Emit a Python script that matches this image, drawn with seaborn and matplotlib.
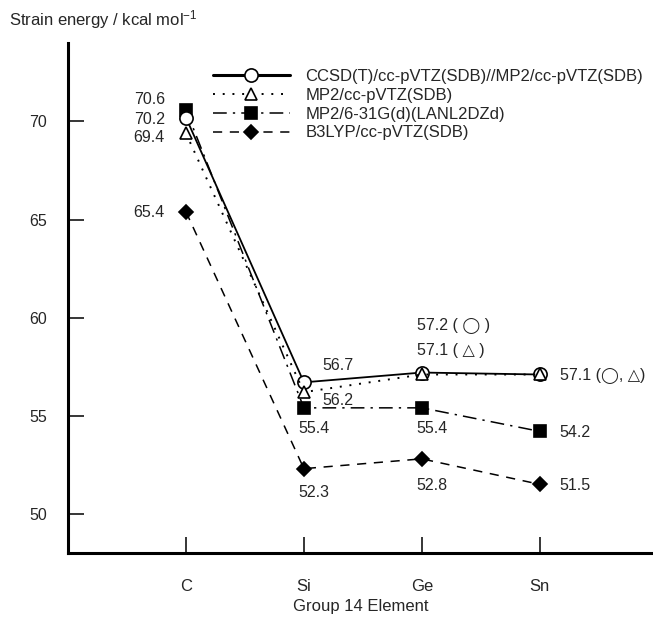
import numpy as np
import matplotlib
matplotlib.use("Agg")
import matplotlib.pyplot as plt
import seaborn as sns

# Strain energies (kcal/mol) of the group 14 three-membered rings
elements = ["C", "Si", "Ge", "Sn"]
ccsd_t = [70.2, 56.7, 57.2, 57.1]
mp2_vtz = [69.4, 56.2, 57.1, 57.1]
mp2_631g = [70.6, 55.4, 55.4, 54.2]
b3lyp = [65.4, 52.3, 52.8, 51.5]
methods = [
    "CCSD(T)/cc-pVTZ(SDB)//MP2/cc-pVTZ(SDB)",
    "MP2/cc-pVTZ(SDB)",
    "MP2/6-31G(d)(LANL2DZd)",
    "B3LYP/cc-pVTZ(SDB)",
]
yticks = [50, 55, 60, 65, 70]

sns.set_theme(style="ticks")
plt.rcParams["font.family"] = ["Liberation Sans", "DejaVu Sans"]
plt.rcParams["mathtext.default"] = "regular"

W, H = 653, 619
fig = plt.figure(figsize=(W / 100, H / 100), dpi=100)
fig.patch.set_facecolor("white")
ax = fig.add_axes([68 / W, 66 / H, (W - 68) / W, 510 / H])
ax.set_facecolor("white")

pos = np.arange(len(elements))
series = [ccsd_t, mp2_vtz, mp2_631g, b3lyp]
styles = [
    dict(marker="o", markersize=9.5, markerfacecolor="white", linestyle="-", linewidth=1.3, zorder=4),
    dict(marker="^", markersize=8, markerfacecolor="white", linestyle=(0, (1, 4)), linewidth=1.4, zorder=5),
    dict(marker="s", markersize=8, markerfacecolor="black", linestyle=(0, (9, 4, 1.5, 4)), linewidth=1.1, zorder=3),
    dict(marker="D", markersize=7.5, markerfacecolor="black", linestyle=(0, (6, 5)), linewidth=1.1, zorder=3),
]
for vals, name, st in zip(series, methods, styles):
    sns.lineplot(x=pos, y=vals, ax=ax, color="black", markeredgecolor="black",
                 markeredgewidth=1.2, label=name, **st)

ax.set_xlim(-1.0, 3.96)
ax.set_ylim(48, 74)
ax.set_xticks(pos, elements)
ax.set_yticks(yticks)
ax.tick_params(direction="in", length=11.5, width=1.1, labelsize=11.5, color="black")
ax.tick_params(axis="x", pad=19, labelsize=12)
ax.tick_params(axis="y", pad=15)
sns.despine(ax=ax)
for side in ("left", "bottom"):
    ax.spines[side].set_linewidth(2.2)
    ax.spines[side].set_color("black")
ax.grid(False)

ax.set_xlabel("Group 14 Element", fontsize=12, labelpad=3)
ax.set_ylabel("")
fig.text(9 / W, 1 - 20 / H, "Strain energy / kcal mol$^{-1}$", fontsize=12, va="center", ha="left")

leg = ax.legend(loc="upper left", bbox_to_anchor=(213 / W, 1 - 69 / H), bbox_transform=fig.transFigure,
                frameon=False, handlelength=4.6, handletextpad=0.95, labelspacing=0.23,
                borderpad=0, borderaxespad=0, fontsize=12)
leg.get_lines()[0].set_linewidth(2.2)


def note(text, x, y, dx, dy, ha="left"):
    # offsets given in pixels, converted to points
    ax.annotate(text, xy=(x, y), xytext=(dx * 0.72, dy * 0.72), textcoords="offset points",
                ha=ha, va="center", fontsize=11.5)


# C column: labels to the left of the markers
note(f"{mp2_631g[0]}", 0, mp2_631g[0], -21, 10, ha="right")
note(f"{ccsd_t[0]}", 0, ccsd_t[0], -21, -2, ha="right")
note(f"{mp2_vtz[0]}", 0, mp2_vtz[0], -21, -4, ha="right")
note(f"{b3lyp[0]}", 0, b3lyp[0], -21, -1, ha="right")

# Si column
note(f"{ccsd_t[1]}", 1, ccsd_t[1], 18, 17)
note(f"{mp2_vtz[1]}", 1, mp2_vtz[1], 18, -8)
note(f"{mp2_631g[1]}", 1, mp2_631g[1], -6, -21)
note(f"{b3lyp[1]}", 1, b3lyp[1], -6, -24)

# Ge column
note(f"{ccsd_t[2]} ( ◯ )", 2, ccsd_t[2], -5, 47)
note(f"{mp2_vtz[2]} ( △ )", 2, mp2_vtz[2], -5, 24)
note(f"{mp2_631g[2]}", 2, mp2_631g[2], -5, -21)
note(f"{b3lyp[2]}", 2, b3lyp[2], -5, -27)

# Sn column: labels to the right of the markers
note(f"{ccsd_t[3]} (◯, △)", 3, ccsd_t[3], 20, -1)
note(f"{mp2_631g[3]}", 3, mp2_631g[3], 20, -1)
note(f"{b3lyp[3]}", 3, b3lyp[3], 20, -1)

fig.savefig("out.png", dpi=100, facecolor="white")
